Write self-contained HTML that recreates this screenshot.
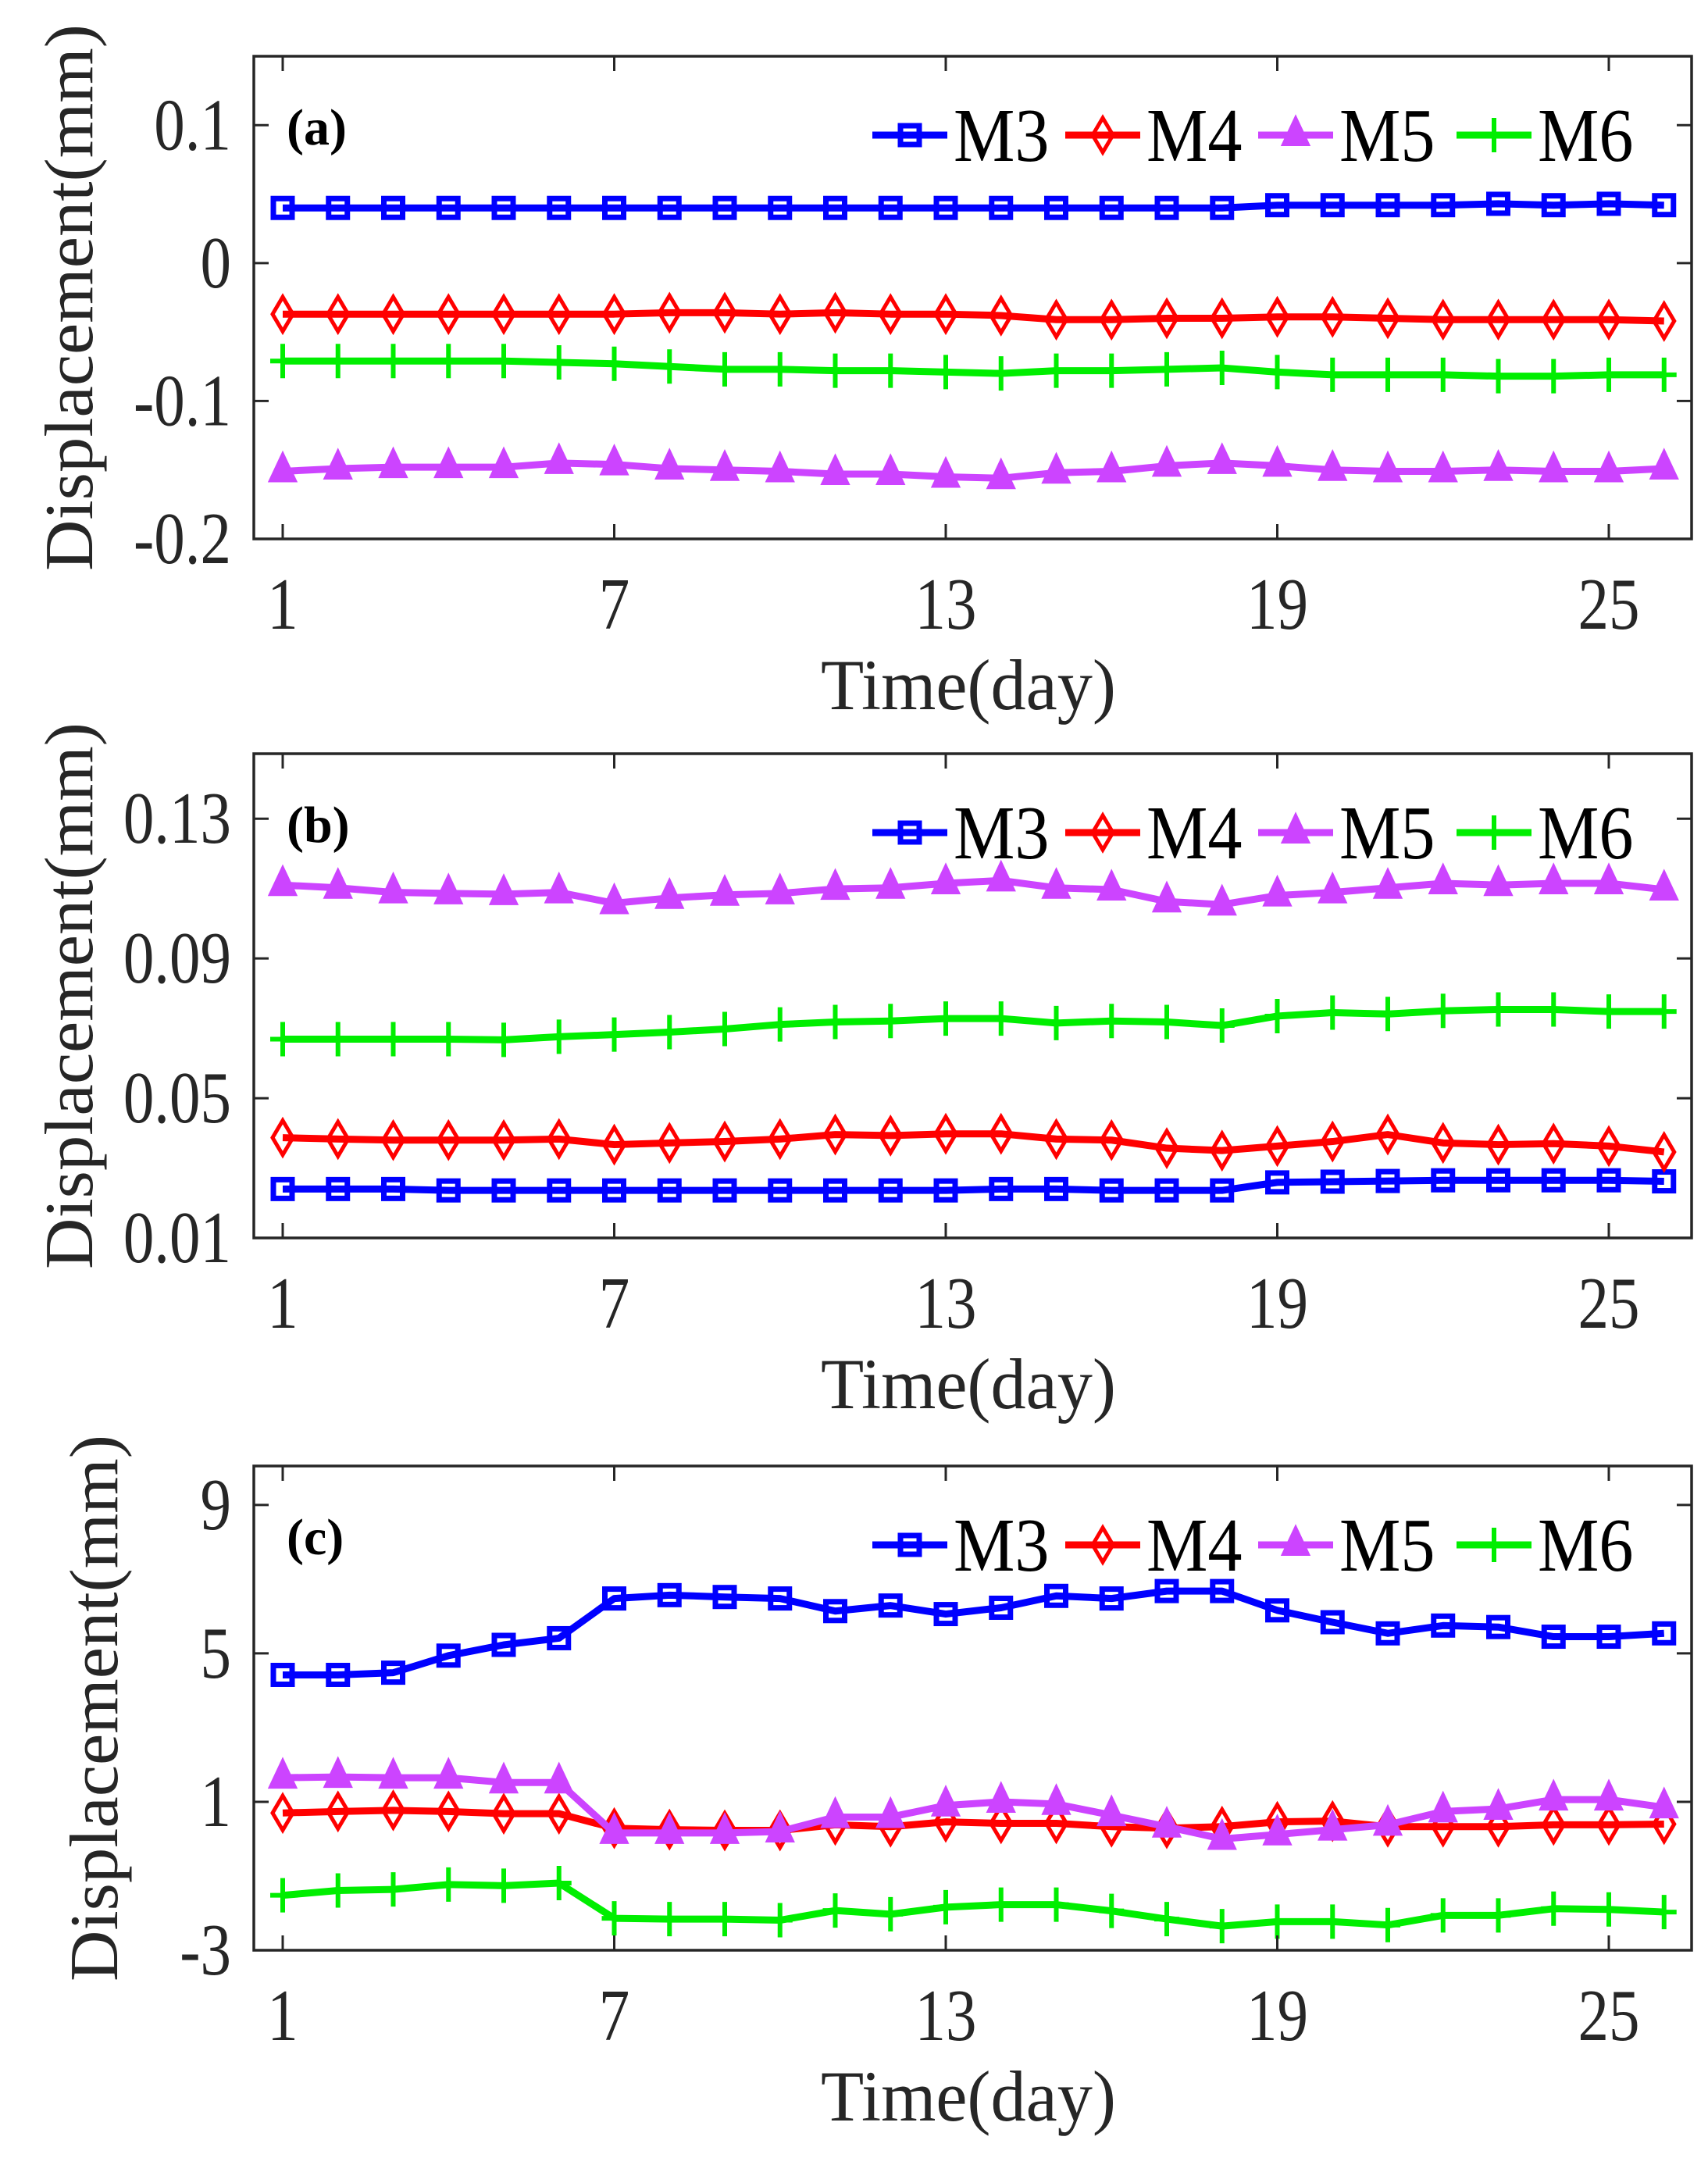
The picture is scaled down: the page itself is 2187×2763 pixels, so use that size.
<!DOCTYPE html>
<html><head><meta charset="utf-8">
<style>
html,body{margin:0;padding:0;background:#fff;}
svg{display:block;font-family:"Liberation Serif","DejaVu Serif",serif;}
</style></head>
<body>
<svg id="fig" width="2187" height="2763" viewBox="0 0 2187 2763" xmlns="http://www.w3.org/2000/svg"></svg>
<script>
const days = Array.from({length:26},(_,i)=>i+1);
const xTicks = [1,7,13,19,25];

// Panel (a)
const aM3 = [0.040,0.040,0.040,0.040,0.040,0.040,0.040,0.040,0.040,0.040,0.040,0.040,0.040,0.040,0.040,0.040,0.040,0.040,0.042,0.042,0.042,0.042,0.043,0.042,0.043,0.042];
const aM4 = [-0.037,-0.037,-0.037,-0.037,-0.037,-0.037,-0.037,-0.036,-0.036,-0.037,-0.036,-0.037,-0.037,-0.038,-0.041,-0.041,-0.040,-0.040,-0.039,-0.039,-0.040,-0.041,-0.041,-0.041,-0.041,-0.042];
const aM5 = [-0.151,-0.149,-0.148,-0.148,-0.148,-0.145,-0.146,-0.149,-0.150,-0.151,-0.153,-0.153,-0.155,-0.156,-0.152,-0.151,-0.147,-0.145,-0.147,-0.150,-0.151,-0.151,-0.150,-0.151,-0.151,-0.149];
const aM6 = [-0.071,-0.071,-0.071,-0.071,-0.071,-0.072,-0.073,-0.075,-0.077,-0.077,-0.078,-0.078,-0.079,-0.080,-0.078,-0.078,-0.077,-0.076,-0.079,-0.081,-0.081,-0.081,-0.082,-0.082,-0.081,-0.081];
const aTicks = [0.1,0,-0.1,-0.2];
const aTickLabels = ["0.1","0","-0.1","-0.2"];

// Panel (b)
const bM3 = [0.0240,0.0240,0.0240,0.0236,0.0236,0.0236,0.0236,0.0236,0.0236,0.0236,0.0236,0.0236,0.0236,0.0240,0.0240,0.0236,0.0236,0.0236,0.0259,0.0261,0.0263,0.0265,0.0265,0.0265,0.0265,0.0262];
const bM4 = [0.0387,0.0383,0.0380,0.0380,0.0380,0.0383,0.0367,0.0372,0.0376,0.0383,0.0396,0.0393,0.0398,0.0398,0.0383,0.0380,0.0357,0.0350,0.0363,0.0376,0.0396,0.0372,0.0367,0.0370,0.0363,0.0346];
const bM5 = [0.1110,0.1102,0.1089,0.1086,0.1084,0.1089,0.1058,0.1073,0.1082,0.1086,0.1099,0.1102,0.1115,0.1123,0.1102,0.1097,0.1063,0.1054,0.1080,0.1089,0.1102,0.1115,0.1110,0.1115,0.1115,0.1097];
const bM6 = [0.0669,0.0669,0.0669,0.0669,0.0667,0.0676,0.0682,0.0689,0.0698,0.0711,0.0718,0.0721,0.0728,0.0728,0.0715,0.0721,0.0718,0.0708,0.0735,0.0745,0.0741,0.0750,0.0754,0.0754,0.0748,0.0748];
const bTicks = [0.13,0.09,0.05,0.01];
const bTickLabels = ["0.13","0.09","0.05","0.01"];

// Panel (c)
const cM3 = [4.42,4.42,4.48,4.94,5.23,5.41,6.48,6.57,6.52,6.48,6.14,6.29,6.06,6.23,6.55,6.48,6.68,6.68,6.16,5.84,5.54,5.75,5.71,5.45,5.45,5.54];
const cM4 = [0.70,0.74,0.77,0.74,0.68,0.68,0.29,0.25,0.23,0.23,0.38,0.33,0.46,0.42,0.42,0.33,0.29,0.33,0.46,0.48,0.33,0.33,0.33,0.38,0.38,0.40];
const cM5 = [1.65,1.67,1.65,1.65,1.52,1.52,0.16,0.16,0.16,0.20,0.59,0.59,0.90,1.00,0.94,0.64,0.33,0.00,0.12,0.25,0.38,0.74,0.81,1.06,1.06,0.85];
const cM6 = [-1.52,-1.39,-1.36,-1.23,-1.26,-1.19,-2.14,-2.16,-2.16,-2.19,-1.93,-2.03,-1.84,-1.77,-1.77,-1.94,-2.16,-2.35,-2.23,-2.23,-2.32,-2.06,-2.06,-1.88,-1.90,-1.97];
const cTicks = [9,5,1,-3];
const cTickLabels = ["9","5","1","-3"];

const seriesNames = ["M3","M4","M5","M6"];
const colors = {M3:"#0000ff",M4:"#ff0000",M5:"#cc44ff",M6:"#00ee00"};

const NS="http://www.w3.org/2000/svg";
const svg=document.getElementById('fig');
function mk(tag,attrs,parent){const e=document.createElementNS(NS,tag);for(const k in attrs)e.setAttribute(k,attrs[k]);(parent||svg).appendChild(e);return e;}

const X0=325,X1=2166;
function xs(d){return 362+(d-1)*70.75;}

function marker(g,type,x,y,c){
  let m;
  if(type==="M3"){m=mk('rect',{x:x-12,y:y-12,width:24,height:24,fill:'none',stroke:c,'stroke-width':7},g);}
  else if(type==="M4"){m=mk('path',{d:`M${x} ${y-22}L${x+13} ${y}L${x} ${y+22}L${x-13} ${y}Z`,fill:'none',stroke:c,'stroke-width':5},g);}
  else if(type==="M5"){m=mk('path',{d:`M${x} ${y-22}L${x+16} ${y+12}L${x-16} ${y+12}Z`,fill:c,stroke:c,'stroke-width':4},g);}
  else {m=mk('path',{d:`M${x-16} ${y}H${x+16}M${x} ${y-22}V${y+22}`,fill:'none',stroke:c,'stroke-width':6},g);}
  
  
}

function panel(id,top,bot,ymin,ymax,ticks,tickLabels,data,label){
  const g=mk('g',{});
  
  
  const ys=v=>bot-(v-ymin)/(ymax-ymin)*(bot-top);
  seriesNames.forEach((s,i)=>{
    const sg=mk('g',{},g);
    
    
    const pts=data[i].map((v,j)=>xs(days[j])+','+ys(v)).join(' ');
    const pl=mk('polyline',{points:pts,fill:'none',stroke:colors[s],'stroke-width':9,'stroke-linejoin':'round'},sg);
    
    
    data[i].forEach((v,j)=>marker(sg,s,xs(days[j]),ys(v),colors[s]));
  });
  const box=mk('rect',{x:X0,y:top,width:X1-X0,height:bot-top,fill:'none',stroke:'#262626','stroke-width':3.5},g);
  
  
  xTicks.forEach(t=>{
    const x=xs(t);
    mk('path',{d:`M${x} ${bot}v-19M${x} ${top}v19`,stroke:'#262626','stroke-width':3},g);
    const tl=mk('text',{x:0,y:0,'text-anchor':'middle','font-size':94,fill:'#262626',transform:`translate(${x},${bot+115}) scale(0.84,1)`},g);
    tl.textContent=t;
    
    
  });
  ticks.forEach((t,i)=>{
    const y=ys(t);
    mk('path',{d:`M${X0} ${y}h19M${X1} ${y}h-19`,stroke:'#262626','stroke-width':3},g);
    const tl=mk('text',{x:0,y:0,'text-anchor':'end','font-size':94,fill:'#262626',transform:`translate(296,${y+31}) scale(0.84,1)`},g);
    tl.textContent=tickLabels[i];
    
    
  });
  const xt=mk('text',{x:1240,y:bot+218,'text-anchor':'middle','font-size':92,fill:'#262626',textLength:378,lengthAdjust:'spacingAndGlyphs'},g);
  xt.textContent='Time(day)';
  
  
  const cy=(top+bot)/2;
  const yt=mk('text',{x:0,y:0,'text-anchor':'middle','font-size':88,fill:'#262626',transform:`translate(${id==='c'?150:118},${cy}) rotate(-90)`,textLength:700,lengthAdjust:'spacingAndGlyphs'},g);
  yt.textContent='Displacement(mm)';
  
  
  const pl=mk('text',{x:367,y:top+113,'font-size':66,'font-weight':'bold',fill:'#000'},g);
  pl.textContent=label;
  
  
  const lg=mk('g',{},g);
  
  
  const ly=top+101;
  const lx=[1117,1364,1611,1865];
  seriesNames.forEach((s,i)=>{
    const eg=mk('g',{},lg);
    
    
    mk('line',{x1:lx[i],x2:lx[i]+96,y1:ly,y2:ly,stroke:colors[s],'stroke-width':9},eg);
    marker(eg,s,lx[i]+48,ly,colors[s]);
    const t=mk('text',{x:0,y:0,'font-size':98,fill:'#000',transform:`translate(${lx[i]+104},${ly+33}) scale(0.9,1)`},eg);
    t.textContent=s;
  });
}

panel('a',72,690,-0.2,0.15,aTicks,aTickLabels,[aM3,aM4,aM5,aM6],'(a)');
panel('b',965,1585,0.01,0.1486,bTicks,bTickLabels,[bM3,bM4,bM5,bM6],'(b)');
panel('c',1877,2497,-3,10.05,cTicks,cTickLabels,[cM3,cM4,cM5,cM6],'(c)');
</script>
</body></html>
